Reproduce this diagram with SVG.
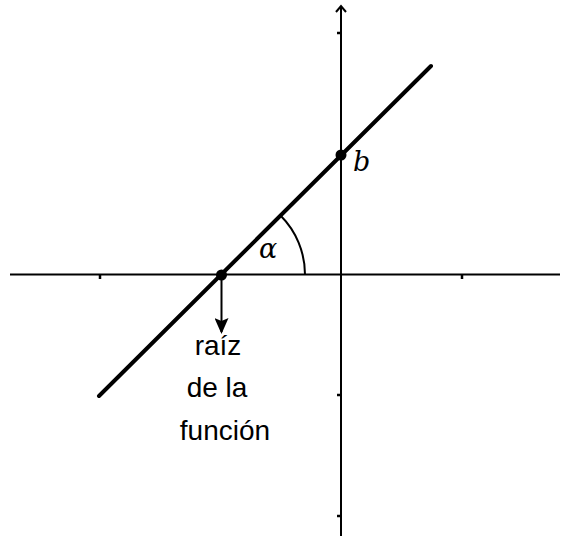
<svg xmlns="http://www.w3.org/2000/svg" width="561" height="539" viewBox="0 0 561 539">
<style>
.axis{stroke:#000;stroke-width:2;fill:none}
.tick{stroke:#000;stroke-width:2.5;fill:none}
.lbl{font-family:"Liberation Sans",Arial,sans-serif;font-size:28px;fill:#000;text-anchor:middle}
.math{font-family:"DejaVu Serif","Liberation Serif",serif;font-style:italic;font-size:27px;fill:#000}
</style>
<defs>
<marker id="ah" markerWidth="16" markerHeight="14" refX="14" refY="7" orient="auto" markerUnits="userSpaceOnUse">
<path d="M0,0 L16,7 L0,14 L3,7 Z" fill="#000"/>
</marker>
</defs>
<rect width="561" height="539" fill="#fff"/>
<g id="axes">
<line class="axis" x1="10" y1="274.5" x2="560" y2="274.5"/>
<line class="axis" x1="341" y1="6" x2="341" y2="536"/>
<path class="axis" d="M336,12 L341,6 L346,12" stroke-width="2"/>
<line class="tick" x1="100" y1="275" x2="100" y2="279"/>
<line class="tick" x1="462" y1="275" x2="462" y2="279"/>
<line class="tick" x1="337" y1="33" x2="341" y2="33"/>
<line class="tick" x1="337" y1="395" x2="341" y2="395"/>
<line class="tick" x1="337" y1="516" x2="341" y2="516"/>
</g>
<g id="line">
<line x1="99" y1="396" x2="431" y2="66" stroke="#000" stroke-width="4" stroke-linecap="round"/>
</g>
<g id="angle">
<path d="M305,274.5 A83.5,83.5 0 0 0 280.5,215.5" fill="none" stroke="#000" stroke-width="2"/>
<text class="math" x="259" y="258">α</text>
</g>
<g id="root">
<circle cx="221.5" cy="275" r="5.5" fill="#000"/>
</g>
<g id="point-b">
<circle cx="341" cy="155" r="5.5" fill="#000"/>
<text class="math" x="353" y="171">b</text>
</g>
<g id="connectors">
<line x1="221.5" y1="275" x2="221.5" y2="332" stroke="#000" stroke-width="2" marker-end="url(#ah)"/>
</g>
<g id="root-label">
<text class="lbl" x="218" y="355">raíz</text>
<text class="lbl" x="217" y="397">de la</text>
<text class="lbl" x="225" y="440">función</text>
</g>
</svg>
